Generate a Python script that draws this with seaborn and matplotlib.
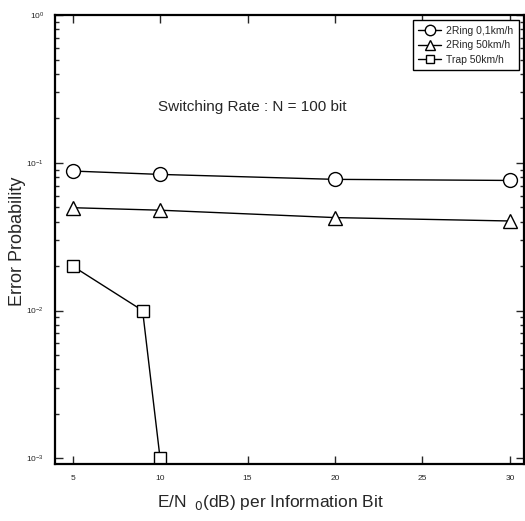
import matplotlib
matplotlib.use("Agg")
import matplotlib.pyplot as plt
import numpy as np
import pandas as pd
import seaborn as sns
from matplotlib.ticker import LogLocator, LogFormatterSciNotation, FixedLocator

# values
ring01_x = [5, 10, 20, 30]
ring01_y = [0.088, 0.0835, 0.0773, 0.076]
ring50_x = [5, 10, 20, 30]
ring50_y = [0.0497, 0.0478, 0.0426, 0.0404]
trap_x = [5, 9, 10]
trap_y = [0.02, 0.01, 0.001]

series_labels = ["2Ring 0,1km/h", "2Ring 50km/h", "Trap 50km/h"]
x_ticks = [5, 10, 15, 20, 25, 30]

sns.set_style("ticks")
narrow = ["Liberation Sans Narrow", "Liberation Sans", "DejaVu Sans"]
plt.rcParams["font.family"] = ["Liberation Sans", "DejaVu Sans"]
plt.rcParams["mathtext.fontset"] = "custom"
plt.rcParams["mathtext.rm"] = "Liberation Sans Narrow"
plt.rcParams["mathtext.it"] = "Liberation Sans Narrow"

fig = plt.figure(figsize=(5.25, 5.21), dpi=100)
ax = fig.add_axes([0.105, 0.109, 0.893, 0.862])

style = dict(color="black", linewidth=1, markerfacecolor="white",
             markeredgecolor="black", markeredgewidth=1)
sns.lineplot(x=ring01_x, y=ring01_y, marker="o", markersize=10,
             label=series_labels[0], ax=ax, **style)
sns.lineplot(x=ring50_x, y=ring50_y, marker="^", markersize=10,
             label=series_labels[1], ax=ax, **style)
sns.lineplot(x=trap_x, y=trap_y, marker="s", markersize=8,
             label=series_labels[2], ax=ax, **style)

ax.set_yscale("log")
ax.set_ylim(10 ** -3.04, 1)
ax.set_xlim(4, 30.8)
ax.xaxis.set_major_locator(FixedLocator(x_ticks))
ax.yaxis.set_major_locator(LogLocator(base=10))
ax.yaxis.set_minor_locator(LogLocator(base=10, subs=np.arange(2, 10)))
ax.yaxis.set_major_formatter(LogFormatterSciNotation())
ax.yaxis.set_minor_formatter(plt.NullFormatter())
ax.tick_params(which="both", direction="in", top=True, right=True,
               labelsize=6, width=1)
ax.tick_params(which="major", length=6, pad=8)
ax.tick_params(which="minor", length=3)
for s in ax.spines.values():
    s.set_linewidth(1.6)
    s.set_color("black")

fig.text(0.033, 0.537, "Error Probability", rotation=90, ha="center",
         va="center", fontsize=13, family=narrow)
ax.set_xlabel(r"E/N$_{\ \ 0}$(dB) per Information Bit", fontsize=12.5,
              family=narrow, labelpad=8)
ax.xaxis.set_label_coords(0.46, -0.065)

ax.text(0.42, 0.795, "Switching Rate : N = 100 bit", transform=ax.transAxes,
        ha="center", va="center", fontsize=11, family=narrow)

leg = ax.legend(loc="upper right", prop={"family": narrow, "size": 7.5},
                fancybox=False, frameon=True, edgecolor="black",
                borderaxespad=0.5, handlelength=2.2, labelspacing=0.45,
                borderpad=0.5, markerscale=0.75, handletextpad=0.5)
leg.get_frame().set_linewidth(1)
leg.get_frame().set_alpha(1)

fig.savefig("out.png", dpi=100)
